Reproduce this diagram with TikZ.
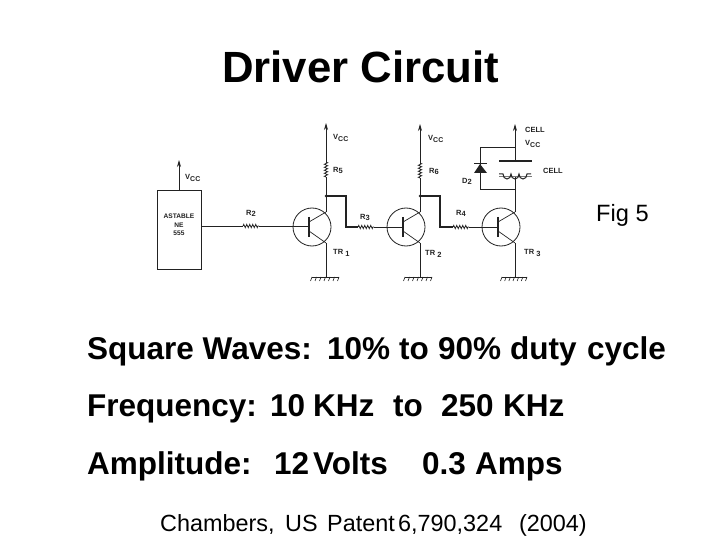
\documentclass[tikz,border=0pt]{standalone}
\usepackage{fontspec}
\setmainfont{Liberation Sans}
\usetikzlibrary{arrows.meta,decorations.pathmorphing}
\definecolor{ink}{HTML}{222222}
\tikzset{
 wire/.style={draw=ink,line width=0.7pt},
 thick wire/.style={draw=ink,line width=1.1pt},
 supply/.style={draw=ink,line width=0.7pt,-{Stealth[length=7pt,width=4pt]}},
 res/.style={draw=ink,line width=0.8pt,decorate,decoration={zigzag,segment length=3pt,amplitude=1.6pt}},
 tiny/.style={inner sep=0,text=ink,font=\fontsize{7.5}{8}\selectfont\bfseries},
 body/.style={inner sep=0,anchor=base west,text=black,font=\fontsize{31.5}{33}\selectfont\bfseries},
 pt/.style={circle,fill=ink,inner sep=0,minimum size=3pt},
}
\newcommand{\seg}[2]{\makebox[#1pt][l]{#2}}
\newcommand{\vcclabel}{V\raisebox{-1.5pt}{\fontsize{7}{8}\selectfont CC}}
\newcommand{\gnd}[3]{\foreach \q in {0,...,#3}{\draw[draw=ink,line width=0.6pt] ({#1+\q*(#2-#1)/#3},277)--++(-1.5,4);}\draw[draw=ink,line width=1pt](#1,277)--(#2,277);}
\newcommand{\trans}[3]{% name, circle centre x, vertical x
  \node[draw=ink,circle,line width=0.8pt,minimum size=38pt,inner sep=0] (#1) at (#2,227) {};
  \draw[draw=ink,line width=1.2pt] (#2-3,217)--(#2-3,237);
  \draw[wire] (#2-3,222)--(#3,212);
  \draw[wire] (#2-3,231)--(#3,243);
}
\begin{document}
\begin{tikzpicture}[x=1pt,y=-1pt]
\useasboundingbox (0,0) rectangle (720,540);
\fill[white] (0,0) rectangle (720,540);
% coordinates
\coordinate (c1t) at (326,123); \coordinate (c1a) at (326,162); \coordinate (c1b) at (326,177); \coordinate (c1j) at (326,196); \coordinate (c1c) at (326,212); \coordinate (c1e) at (326,243); \coordinate (g1) at (326,277);
\coordinate (c2t) at (420,124); \coordinate (c2a) at (420,163); \coordinate (c2b) at (420,178); \coordinate (c2j) at (420,196); \coordinate (c2c) at (420,212); \coordinate (c2e) at (420,243); \coordinate (g2) at (420,277);
\coordinate (c3t) at (515,124); \coordinate (c3a) at (515,161); \coordinate (c3b) at (515,177); \coordinate (c3j) at (515,189); \coordinate (c3c) at (515,212); \coordinate (c3e) at (515,243); \coordinate (g3) at (515,277);
% 555 box
\node[draw=ink,line width=1pt,minimum width=44pt,minimum height=78pt,inner sep=0] (ne) at (179,230) {};
\node[tiny,align=center,font=\fontsize{6.6}{8.5}\selectfont\bfseries] (netext) at (179,225) {ASTABLE\\NE\\555};
\coordinate (v0) at (179,160);
\draw[supply] (ne.north) -- (v0);
\node[tiny,anchor=west] (v0l) at (185,178) {\vcclabel};
% transistors
\trans{t1}{312}{326}
\trans{t2}{406}{420}
\trans{t3}{501}{515}
% base chain
\coordinate (r2a) at (243,226); \coordinate (r2b) at (259,226); \coordinate (b1) at (309,226);
\draw[wire] (ne.east|-r2a) -- (r2a); \draw[res] (r2a)--(r2b); \draw[wire] (r2b)--(b1);
\coordinate (w1a) at (346,196); \coordinate (w1b) at (346,227); \coordinate (r3a) at (358,227); \coordinate (r3b) at (374,227); \coordinate (b2) at (403,227);
\draw[thick wire] (c1j)--(w1a)--(w1b)--(r3a); \draw[res] (r3a)--(r3b); \draw[wire] (r3b)--(b2);
\coordinate (w2a) at (440,196); \coordinate (w2b) at (440,227); \coordinate (r4a) at (453,227); \coordinate (r4b) at (469,227); \coordinate (b3) at (498,227);
\draw[thick wire] (c2j)--(w2a)--(w2b)--(r4a); \draw[res] (r4a)--(r4b); \draw[wire] (r4b)--(b3);
% rails
\draw[supply] (c1a)--(c1t); \draw[res] (c1b)--(c1a); \draw[wire] (c1b)--(c1c); \draw[wire] (c1e)--(g1);
\draw[supply] (c2a)--(c2t); \draw[res] (c2b)--(c2a); \draw[wire] (c2b)--(c2c); \draw[wire] (c2e)--(g2);
\draw[supply] (c3a)--(c3t); \draw[wire] (c3b)--(c3c); \draw[wire] (c3e)--(g3);
\node[pt] (j1) at (c1j) {}; \node[pt] (j2) at (c2j) {};
% grounds
\gnd{312}{339}{6}
\gnd{405}{432}{6}
\gnd{502}{527}{6}
% relay
\draw[draw=ink,line width=1.2pt] (499,161)--(532,161);
\draw[draw=ink!60,line width=1pt] (499,177)--(532,177);
\draw[draw=ink,line width=1pt] (499,174)--(503,174) arc (180:0:4 and 5) arc (180:0:4 and 5) arc (180:0:4 and 5)--(531,174);
% diode
\coordinate (d1) at (480,147); \coordinate (d2) at (515,147); \coordinate (d3) at (480,189);
\draw[wire] (d2)--(d1)--(d3)--(c3j);
\fill[ink] (480,164)--(474,173)--(487,173)--cycle;
\draw[draw=ink,line width=1pt] (474,164)--(487,164);
% labels
\node[tiny,anchor=west] (lv1) at (333,138) {\vcclabel};
\node[tiny,anchor=west] (lv2) at (428,139) {\vcclabel};
\node[tiny,anchor=west] (lv3) at (525,144) {\vcclabel};
\node[tiny,anchor=west] (lcell1) at (525,130) {CELL};
\node[tiny,anchor=west] (lcell2) at (543,171) {CELL};
\node[tiny,anchor=west] (lr5) at (333,170) {R\raisebox{-1pt}{5}};
\node[tiny,anchor=west] (lr6) at (429,171) {R\raisebox{-1pt}{6}};
\node[tiny,anchor=west] (ld2) at (462,181) {D\raisebox{-1pt}{2}};
\node[tiny,anchor=west] (lr2) at (246,213) {R\raisebox{-1pt}{2}};
\node[tiny,anchor=west] (lr3) at (360,217) {R\raisebox{-1pt}{3}};
\node[tiny,anchor=west] (lr4) at (456,213) {R\raisebox{-1pt}{4}};
\node[tiny,anchor=west] (ltr1) at (333,253) {TR\raisebox{-2pt}{ 1}};
\node[tiny,anchor=west] (ltr2) at (425,254) {TR\raisebox{-2pt}{ 2}};
\node[tiny,anchor=west] (ltr3) at (524,253) {TR\raisebox{-2pt}{ 3}};
% text
\node[inner sep=0,anchor=base west,font=\fontsize{43.7}{46}\selectfont\bfseries] (title) at (222,83) {Driver Circuit};
\node[inner sep=0,anchor=base west,font=\fontsize{23.6}{25}\selectfont] (fig) at (596,222) {Fig 5};
\node[body] (l1) at (87,359) {\seg{240}{Square Waves:}\seg{72}{10\%}\seg{39}{to}\seg{72}{90\%}\seg{77}{duty}cycle};
\node[body] (l2) at (87,416) {\seg{183}{Frequency:}\seg{43}{10}\seg{80}{KHz}\seg{48}{to}\seg{62}{250}KHz};
\node[body] (l3) at (87,474) {\seg{187}{Amplitude:}\seg{39}{12}\seg{109}{Volts}\seg{53}{0.3}Amps};
\node[inner sep=0,anchor=base west,font=\fontsize{23.4}{25}\selectfont] (cite) at (160,531) {\seg{125}{Chambers,}\seg{42}{US}\seg{71}{Patent}\seg{121}{6,790,324}(2004)};
\end{tikzpicture}
\end{document}
